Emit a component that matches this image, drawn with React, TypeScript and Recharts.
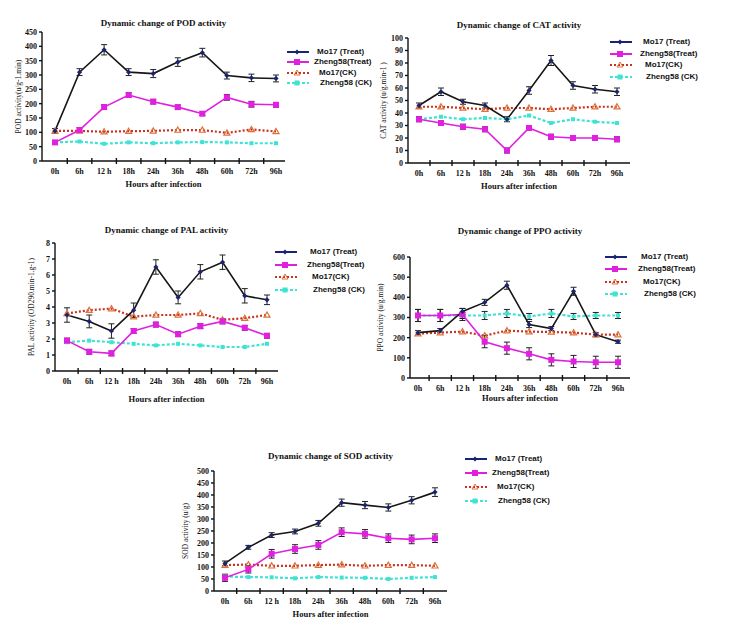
import React from 'react';
import { LineChart, Line, XAxis, YAxis, ErrorBar } from 'recharts';

const hours = ['0h', '6h', '12 h', '18h', '24h', '36h', '48h', '60h', '72h', '96h'];

// POD
const podMoTreat = [105, 310, 388, 310, 305, 345, 378, 298, 290, 288];
const podZhTreat = [65, 108, 188, 230, 207, 188, 165, 222, 198, 196];
const podMoCK = [105, 105, 102, 104, 105, 108, 108, 98, 110, 103];
const podZhCK = [65, 68, 60, 65, 62, 65, 66, 65, 62, 62];
const podMoTreatErr = [8, 12, 18, 12, 14, 15, 15, 12, 13, 12];
const podZhTreatErr = [6, 8, 8, 8, 8, 7, 6, 10, 10, 8];

// CAT
const catMoTreat = [46, 57, 49, 46, 35, 58, 82, 62, 59, 57];
const catZhTreat = [35, 32, 29, 27, 10, 28, 21, 20, 20, 19];
const catMoCK = [45, 45, 44, 43, 44, 44, 43, 44, 45, 45];
const catZhCK = [35, 37, 35, 36, 35, 38, 32, 35, 33, 32];
const catMoTreatErr = [2, 3, 2, 2, 2, 3, 4, 3, 3, 3];
const catZhTreatErr = [2, 2, 2, 2, 2, 2, 2, 2, 2, 2];

// PAL
const palMoTreat = [3.5, 3.1, 2.5, 3.8, 6.5, 4.6, 6.2, 6.8, 4.7, 4.45];
const palZhTreat = [1.9, 1.2, 1.1, 2.5, 2.9, 2.3, 2.8, 3.1, 2.7, 2.2];
const palMoCK = [3.6, 3.8, 3.9, 3.4, 3.5, 3.5, 3.6, 3.2, 3.3, 3.5];
const palZhCK = [1.8, 1.9, 1.8, 1.7, 1.6, 1.7, 1.6, 1.5, 1.5, 1.7];
const palMoTreatErr = [0.45, 0.4, 0.45, 0.45, 0.45, 0.4, 0.45, 0.45, 0.45, 0.3];
const palZhTreatErr = [0.15, 0.15, 0.15, 0.15, 0.15, 0.15, 0.15, 0.15, 0.15, 0.15];

// PPO
const ppoMoTreat = [225, 235, 330, 375, 460, 265, 245, 430, 215, 180];
const ppoZhTreat = [310, 310, 315, 180, 148, 120, 90, 82, 78, 78];
const ppoMoCK = [220, 225, 230, 210, 235, 230, 228, 225, 215, 215];
const ppoZhCK = [310, 310, 310, 310, 320, 305, 320, 305, 310, 310];
const ppoMoTreatErr = [10, 10, 15, 15, 20, 15, 10, 20, 10, 8];
const ppoZhTreatErr = [30, 30, 30, 30, 30, 30, 30, 30, 30, 30];
const ppoZhCKErr = [30, 30, 15, 20, 20, 15, 20, 15, 15, 15];

// SOD
const sodMoTreat = [115, 182, 233, 248, 282, 368, 358, 348, 378, 412];
const sodZhTreat = [55, 90, 155, 175, 192, 245, 238, 220, 215, 220];
const sodMoCK = [108, 110, 105, 105, 108, 110, 105, 108, 108, 105];
const sodZhCK = [60, 58, 57, 53, 58, 56, 55, 50, 55, 58];
const sodMoTreatErr = [10, 8, 10, 10, 12, 15, 15, 15, 15, 18];
const sodZhTreatErr = [15, 15, 18, 18, 18, 18, 18, 18, 18, 18];

const legendNames = ['Mo17 (Treat)', 'Zheng58(Treat)', 'Mo17(CK)', 'Zheng58 (CK)'];

const MO_T = '#161616';
const MO_T_MARK = '#1c2374';
const ZH_T = '#e01fe0';
const MO_CK = '#c8321e';
const MO_CK_MARK = '#e0703a';
const ZH_CK = '#3fe3d3';

const W = 734;
const H = 635;

const buildRows = (mt: number[], zt: number[], mc: number[], zc: number[], mte?: number[], zte?: number[], zce?: number[]) =>
  hours.map((h, i) => ({
    h,
    mt: mt[i],
    zt: zt[i],
    mc: mc[i],
    zc: zc[i],
    mte: mte ? mte[i] : 0,
    zte: zte ? zte[i] : 0,
    zce: zce ? zce[i] : 0,
  }));

const diamond = (props: any) => {
  const { cx, cy, index } = props;
  if (cx == null || cy == null) return <g key={`d${index}`} />;
  return <path key={`d${index}`} d={`M${cx},${cy - 2.6}L${cx + 2.6},${cy}L${cx},${cy + 2.6}L${cx - 2.6},${cy}Z`} fill={MO_T_MARK} />;
};
const square = (color: string, s: number) => (props: any) => {
  const { cx, cy, index } = props;
  if (cx == null || cy == null) return <g key={`s${index}`} />;
  return <rect key={`s${index}`} x={cx - s / 2} y={cy - s / 2} width={s} height={s} fill={color} />;
};
const triangle = (props: any) => {
  const { cx, cy, index } = props;
  if (cx == null || cy == null) return <g key={`t${index}`} />;
  return <path key={`t${index}`} d={`M${cx},${cy - 3}L${cx + 3},${cy + 2.2}L${cx - 3},${cy + 2.2}Z`} fill="none" stroke={MO_CK_MARK} strokeWidth={1.2} />;
};

interface Panel {
  title: string;
  yLabel: string;
  rows: any[];
  domain: [number, number];
  ticks: number[];
  axisX: number;
  xEnd: number;
  firstPt: number;
  lastPt: number;
  yTop: number;
  yBottom: number;
  labelX: number;
  titleY: number;
  xTitleY: number;
  legend: { x: number; y: number; dy: number; textX: number };
}

const panels: Panel[] = [
  {
    title: 'Dynamic change of POD activity',
    yLabel: 'POD activity(u/g-1.min)',
    rows: buildRows(podMoTreat, podZhTreat, podMoCK, podZhCK, podMoTreatErr, podZhTreatErr),
    domain: [0, 450],
    ticks: [0, 50, 100, 150, 200, 250, 300, 350, 400, 450],
    axisX: 42, xEnd: 285, firstPt: 55, lastPt: 276, yTop: 32, yBottom: 161,
    labelX: 18, titleY: 23, xTitleY: 183,
    legend: { x: 287, y: 52, dy: 10.3, textX: 317 },
  },
  {
    title: 'Dynamic change of CAT activity',
    yLabel: 'CAT activity (u/g.min-1 )',
    rows: buildRows(catMoTreat, catZhTreat, catMoCK, catZhCK, catMoTreatErr, catZhTreatErr),
    domain: [0, 100],
    ticks: [0, 10, 20, 30, 40, 50, 60, 70, 80, 90, 100],
    axisX: 408, xEnd: 630, firstPt: 419, lastPt: 617, yTop: 38, yBottom: 163,
    labelX: 383, titleY: 25, xTitleY: 185,
    legend: { x: 610, y: 42, dy: 11.7, textX: 643 },
  },
  {
    title: 'Dynamic change of PAL activity',
    yLabel: 'PAL activity (OD290.min-1.g-1)',
    rows: buildRows(palMoTreat, palZhTreat, palMoCK, palZhCK, palMoTreatErr, palZhTreatErr),
    domain: [0, 8],
    ticks: [0, 1, 2, 3, 4, 5, 6, 7, 8],
    axisX: 55, xEnd: 278, firstPt: 67, lastPt: 267, yTop: 243, yBottom: 371,
    labelX: 31, titleY: 230, xTitleY: 398,
    legend: { x: 275, y: 252, dy: 12.5, textX: 310 },
  },
  {
    title: 'Dynamic change of PPO activity',
    yLabel: 'PPO activity (u/g.min)',
    rows: buildRows(ppoMoTreat, ppoZhTreat, ppoMoCK, ppoZhCK, ppoMoTreatErr, ppoZhTreatErr, ppoZhCKErr),
    domain: [0, 600],
    ticks: [0, 100, 200, 300, 400, 500, 600],
    axisX: 410, xEnd: 630, firstPt: 418, lastPt: 618, yTop: 257, yBottom: 378,
    labelX: 380, titleY: 231, xTitleY: 397,
    legend: { x: 605, y: 257, dy: 12.3, textX: 641 },
  },
  {
    title: 'Dynamic change of SOD activity',
    yLabel: 'SOD activity (u/g)',
    rows: buildRows(sodMoTreat, sodZhTreat, sodMoCK, sodZhCK, sodMoTreatErr, sodZhTreatErr),
    domain: [0, 500],
    ticks: [0, 50, 100, 150, 200, 250, 300, 350, 400, 450, 500],
    axisX: 214, xEnd: 447, firstPt: 225, lastPt: 435, yTop: 471, yBottom: 591,
    labelX: 185, titleY: 456, xTitleY: 613,
    legend: { x: 465, y: 459, dy: 14, textX: 495 },
  },
];

const serif = '"Liberation Serif", "DejaVu Serif", serif';
const sans = '"Liberation Sans", Arial, sans-serif';
const Y_W = 36;

const LegendBlock: React.FC<{ p: Panel }> = ({ p }) => {
  const { x, y, dy, textX } = p.legend;
  const indent = [0, -3, 2, 3];
  const styles = [
    { stroke: MO_T_MARK, dash: undefined, mark: 'diamond' },
    { stroke: ZH_T, dash: undefined, mark: 'square' },
    { stroke: MO_CK, dash: '2 2', mark: 'triangle' },
    { stroke: ZH_CK, dash: '3 2', mark: 'csquare' },
  ];
  return (
    <>
      {legendNames.map((name, i) => {
        const cy = y + i * dy;
        const s = styles[i];
        const mx = x + 10;
        return (
          <React.Fragment key={name}>
            <svg style={{ position: 'absolute', left: x, top: cy - 4, overflow: 'visible' }} width={24} height={8}>
              <line x1={0} y1={4} x2={22} y2={4} stroke={s.stroke} strokeWidth={2} strokeDasharray={s.dash} />
              {s.mark === 'diamond' && <path d={`M${mx - x},1.5L${mx - x + 2.5},4L${mx - x},6.5L${mx - x - 2.5},4Z`} fill={MO_T_MARK} />}
              {s.mark === 'square' && <rect x={mx - x - 3} y={1} width={6} height={6} fill={ZH_T} />}
              {s.mark === 'triangle' && <path d={`M${mx - x},1L${mx - x + 3},6L${mx - x - 3},6Z`} fill="none" stroke={MO_CK_MARK} strokeWidth={1} />}
              {s.mark === 'csquare' && <rect x={mx - x - 2.5} y={1.5} width={5} height={5} fill={ZH_CK} />}
            </svg>
            <div
              style={{
                position: 'absolute',
                left: textX + indent[i],
                top: cy - 6,
                fontFamily: sans,
                fontWeight: 'bold',
                fontSize: 8,
                lineHeight: '12px',
                color: '#111',
                whiteSpace: 'nowrap',
              }}
            >
              {name}
            </div>
          </React.Fragment>
        );
      })}
    </>
  );
};

// x tick: label under the point, tick mark halfway to the next category, crossing the axis
const makeXTick = (p: Panel) => (props: any) => {
  const { x, y, payload, index } = props;
  const step = (p.lastPt - p.firstPt) / (hours.length - 1);
  const tx = x + step / 2;
  return (
    <g key={`xt${index}`}>
      {index < hours.length - 1 && <line x1={tx} y1={p.yBottom - 3} x2={tx} y2={p.yBottom + 3} stroke="#111" strokeWidth={1.4} />}
      <text x={x} y={y + 8} textAnchor="middle" fontFamily={serif} fontSize={8} fontWeight="bold" fill="#111">
        {payload.value}
      </text>
    </g>
  );
};

const PanelChart: React.FC<{ p: Panel }> = ({ p }) => {
  const xAxisH = p.xTitleY - p.yBottom + 4;
  const margin = {
    top: p.yTop,
    left: p.axisX - Y_W,
    right: W - p.xEnd,
    bottom: H - p.yBottom - xAxisH,
  };
  const tickStyle = { fontFamily: serif, fontSize: 8, fontWeight: 'bold', fill: '#111' } as any;
  return (
    <>
      <div style={{ position: 'absolute', left: 0, top: 0 }}>
        <LineChart width={W} height={H} data={p.rows} margin={margin}>
          <XAxis
            dataKey="h"
            padding={{ left: p.firstPt - p.axisX, right: p.xEnd - p.lastPt }}
            height={xAxisH}
            tick={makeXTick(p)}
            tickLine={false}
            tickSize={3}
            stroke="#111"
            strokeWidth={1.4}
            interval={0}
            label={{ value: 'Hours after infection', position: 'insideBottom', offset: 0, style: { fontFamily: serif, fontSize: 8.5, fontWeight: 'bold', fill: '#111' } }}
          />
          <YAxis
            domain={p.domain}
            ticks={p.ticks}
            width={Y_W}
            tick={tickStyle}
            tickSize={3}
            stroke="#111"
            strokeWidth={1.4}
            interval={0}
            label={{ value: p.yLabel, angle: -90, position: 'insideLeft', offset: p.labelX - (p.axisX - Y_W), style: { textAnchor: 'middle', fontFamily: serif, fontSize: 7.5, fill: '#111' } }}
          />
          <Line dataKey="zc" stroke={ZH_CK} strokeWidth={2.2} strokeDasharray="3 2" dot={square(ZH_CK, 4)} isAnimationActive={false}>
            <ErrorBar dataKey="zce" width={3} stroke="#222" strokeWidth={1} />
          </Line>
          <Line dataKey="mc" stroke={MO_CK} strokeWidth={2.2} strokeDasharray="2 2" dot={triangle} isAnimationActive={false} />
          <Line dataKey="zt" stroke={ZH_T} strokeWidth={1.6} dot={square(ZH_T, 6)} isAnimationActive={false}>
            <ErrorBar dataKey="zte" width={3} stroke="#222" strokeWidth={1} />
          </Line>
          <Line dataKey="mt" stroke={MO_T} strokeWidth={1.6} dot={diamond} isAnimationActive={false}>
            <ErrorBar dataKey="mte" width={3} stroke="#222" strokeWidth={1} />
          </Line>
        </LineChart>
      </div>
      <div
        style={{
          position: 'absolute',
          left: 0,
          width: p.axisX + p.xEnd,
          top: p.titleY - 6,
          textAlign: 'center',
          fontFamily: serif,
          fontWeight: 'bold',
          fontSize: 9,
          lineHeight: '12px',
          color: '#111',
          whiteSpace: 'nowrap',
        }}
      >
        {p.title}
      </div>
      <LegendBlock p={p} />
    </>
  );
};

export default function App() {
  return (
    <div style={{ position: 'absolute', left: 0, top: 0, width: W, height: H, background: '#fff', overflow: 'hidden' }}>
      {panels.map((p) => (
        <PanelChart key={p.title} p={p} />
      ))}
    </div>
  );
}
